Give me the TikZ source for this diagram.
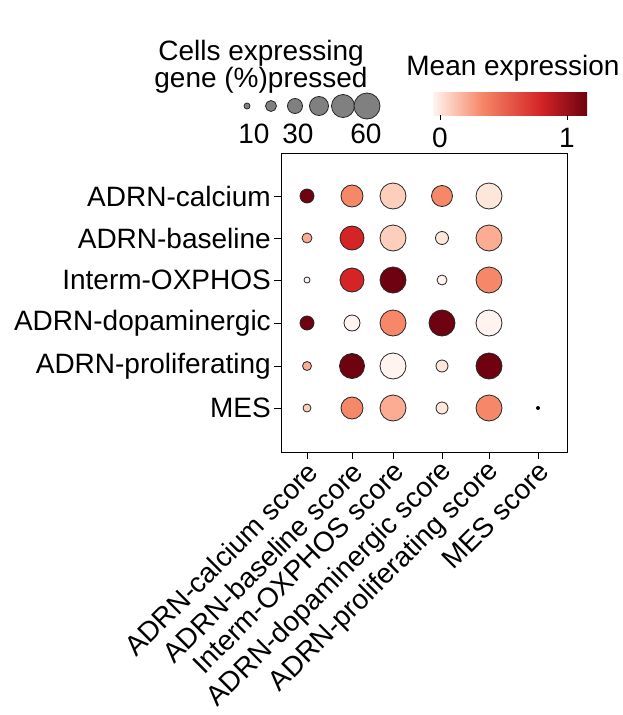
\documentclass[tikz,border=0pt]{standalone}
\usepackage{fontspec}
\setmainfont{Liberation Sans}
\usetikzlibrary{positioning}
\definecolor{rA}{RGB}{110,2,16}
\definecolor{rB}{RGB}{212,36,38}
\definecolor{rC}{RGB}{246,135,104}
\definecolor{rD}{RGB}{251,172,146}
\definecolor{rE}{RGB}{252,207,188}
\definecolor{rF}{RGB}{254,230,218}
\definecolor{rG}{RGB}{255,244,239}
\definecolor{dotgray}{RGB}{128,128,128}
\tikzset{
  lbl/.style={font=\fontsize{28}{27}\selectfont, inner sep=0pt},
  dot/.style={circle, draw=black!85, line width=0.8pt, inner sep=0pt}
}
\begin{document}
\begin{tikzpicture}[x=1pt, y=-1pt]
  \useasboundingbox (0,0) rectangle (623,715);

  % size legend
  \node[lbl, align=center] (sizetitle) at (261,67) {Cells expressing\\gene (\%)pressed};
  \foreach \i/\x/\r in {1/247/3, 2/271/5.5, 3/295/7.5, 4/319/9.5, 5/343/11.5, 6/367/13}
    \node[dot, fill=dotgray, minimum size=2*\r] (leg\i) at (\x,106) {};
  \node[lbl] (s10) at (254,134) {10};
  \node[lbl] (s30) at (298,134) {30};
  \node[lbl] (s60) at (366,134) {60};

  % colour bar
  \node[lbl] (coltitle) at (513,68) {Mean expression};
  \shade[left color=rG, right color=rC] (433,92) rectangle (482,115);
  \shade[left color=rC, right color=rB] (481.5,92) rectangle (541,115);
  \shade[left color=rB, right color=rA] (540.5,92) rectangle (587,115);
  \coordinate (t0) at (440,115);
  \coordinate (t1) at (567,115);
  \draw (t0) -- ++(0,5) (t1) -- ++(0,5);
  \node[lbl] (c0) at (440,138) {0};
  \node[lbl] (c1) at (567,138) {1};

  % frame
  \draw[line width=1pt] (281,153) rectangle (567,452);

  % rows
  \foreach \j/\y/\name in {1/196/ADRN-calcium, 2/238/ADRN-baseline, 3/280/Interm-OXPHOS,
      4/323/ADRN-dopaminergic, 5/366/ADRN-proliferating, 6/408/MES}{
    \draw (274,\y) -- (281,\y);
    \node[lbl, anchor=east] (row\j) at (271,\y) {\name};
  }

  % columns
  \foreach \i/\x/\name in {1/307/ADRN-calcium score, 2/352/ADRN-baseline score,
      3/393/Interm-OXPHOS score, 4/442/ADRN-dopaminergic score,
      5/489/ADRN-proliferating score, 6/538/MES score}{
    \draw (\x,452) -- (\x,459);
    \node[lbl, anchor=east, rotate=45] (col\i) at (\x+6,467) {\name};
  }

  % dots
  \foreach \j/\y/\dotlist in {
      1/196/{1/307/7/rA, 2/352/11/rC, 3/393/13/rE, 4/442/10.5/rC, 5/489/13/rF},
      2/238/{1/307/5/rD, 2/352/12/rB, 3/393/13/rE, 4/442/6.5/rF, 5/489/13/rD},
      3/280/{1/307/3/rG, 2/352/12/rB, 3/393/13/rA, 4/442/5/rG, 5/489/13/rC},
      4/323/{1/307/7/rA, 2/352/8/rG, 3/393/13/rC, 4/442/13/rA, 5/489/13/rG},
      5/366/{1/307/4.5/rD, 2/352/12.5/rA, 3/393/13/rG, 4/442/6/rF, 5/489/13/rA},
      6/408/{1/307/4/rE, 2/352/11/rC, 3/393/13/rD, 4/442/6/rF, 5/489/13/rC}}{
    \foreach \i/\x/\r/\c in \dotlist
      \node[dot, fill=\c, minimum size=2*\r] (d\j-\i) at (\x,\y) {};
  }
  \node[circle, fill=black, inner sep=0pt, minimum size=4] (d6-6) at (538,408) {};
\end{tikzpicture}
\end{document}
